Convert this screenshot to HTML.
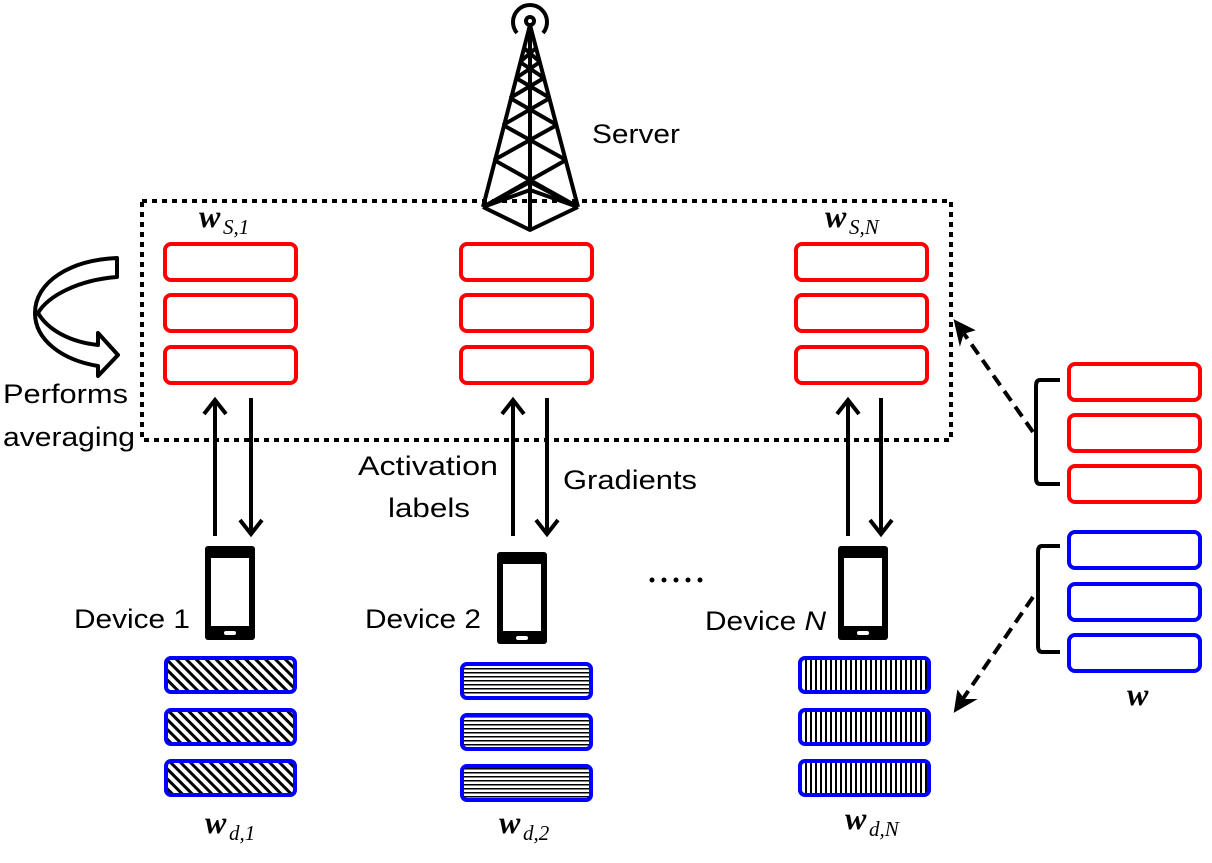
<!DOCTYPE html>
<html><head><meta charset="utf-8"><style>
html,body{margin:0;padding:0;background:#fff}
svg{display:block}
text{font-family:"Liberation Sans",sans-serif;fill:#000}
.m text{font-family:"Liberation Serif","DejaVu Serif",serif;font-style:italic}
</style></head><body>
<svg width="1212" height="863" viewBox="0 0 1212 863" xmlns="http://www.w3.org/2000/svg">
<defs>
<pattern id="diag" width="7" height="7" patternUnits="userSpaceOnUse" patternTransform="rotate(-45)">
<rect width="7" height="7" fill="#fff"/><rect width="3" height="7" fill="#000"/></pattern>
<pattern id="hor" width="5" height="4" patternUnits="userSpaceOnUse">
<rect width="5" height="4" fill="#fff"/><rect width="5" height="1.5" fill="#000"/></pattern>
<pattern id="ver" width="5" height="5" patternUnits="userSpaceOnUse">
<rect width="5" height="5" fill="#fff"/><rect width="2" height="5" fill="#000"/></pattern>
</defs>

<rect x="142" y="201" width="809" height="239" fill="none" stroke="#000" stroke-width="4" stroke-dasharray="5,5"/>

<g stroke="#000" stroke-width="4" fill="none" stroke-linejoin="round">
<circle cx="530" cy="21" r="4"/>
<path d="M517,33 A17,17 0 1 1 543,33"/>
<path d="M530,25 L483,207 M530,25 L578,207 M530,25 L530,230"/>
<path d="M483,207 L530,230 L578,207 M483,207 L530,182 L578,207 M483,207 L530,190 L578,207"/>
<path d="M524,48 L540,62 M536,48 L520,62 M520,62 L544,78 M540,62 L516,78 M516,78 L550,98 M544,78 L510,98 M510,98 L557,125 M550,98 L503,125 M503,125 L566,160 M557,125 L494,160 M494,160 L578,207 M566,160 L483,207"/>
</g>

<g fill="none" stroke="#f00" stroke-width="4">
<rect x="165" y="244" width="131" height="36" rx="6"/><rect x="165" y="295" width="131" height="36" rx="6"/><rect x="165" y="347" width="131" height="36" rx="6"/>
<rect x="461" y="244" width="131" height="36" rx="6"/><rect x="461" y="295" width="131" height="36" rx="6"/><rect x="461" y="347" width="131" height="36" rx="6"/>
<rect x="796" y="244" width="131" height="36" rx="6"/><rect x="796" y="295" width="131" height="36" rx="6"/><rect x="796" y="347" width="131" height="36" rx="6"/>
<rect x="1069" y="364" width="131" height="36" rx="6"/><rect x="1069" y="415" width="131" height="36" rx="6"/><rect x="1069" y="466" width="131" height="36" rx="6"/>
</g>
<g fill="none" stroke="#00f" stroke-width="4">
<rect x="1069" y="532" width="131" height="36" rx="6"/><rect x="1069" y="584" width="131" height="36" rx="6"/><rect x="1069" y="635" width="131" height="36" rx="6"/>
</g>
<g stroke="#00f" stroke-width="4">
<rect x="166" y="658" width="129" height="34" rx="5" fill="url(#diag)"/><rect x="166" y="710" width="129" height="34" rx="5" fill="url(#diag)"/><rect x="166" y="761" width="129" height="34" rx="5" fill="url(#diag)"/>
<rect x="462" y="664" width="129" height="34" rx="5" fill="url(#hor)"/><rect x="462" y="715" width="129" height="34" rx="5" fill="url(#hor)"/><rect x="462" y="766" width="129" height="34" rx="5" fill="url(#hor)"/>
<rect x="800" y="658" width="129" height="34" rx="5" fill="url(#ver)"/><rect x="800" y="710" width="129" height="34" rx="5" fill="url(#ver)"/><rect x="800" y="761" width="129" height="34" rx="5" fill="url(#ver)"/>
</g>

<g stroke="#000" stroke-width="4" fill="none" stroke-linejoin="miter">
<line x1="215" y1="536" x2="215" y2="400"/><path d="M204,414 L215,400 L226,414"/>
<line x1="251" y1="398" x2="251" y2="534"/><path d="M240,520 L251,534 L262,520"/>
<line x1="513" y1="536" x2="513" y2="400"/><path d="M502,414 L513,400 L524,414"/>
<line x1="547" y1="398" x2="547" y2="534"/><path d="M536,520 L547,534 L558,520"/>
<line x1="848" y1="536" x2="848" y2="400"/><path d="M837,414 L848,400 L859,414"/>
<line x1="881" y1="398" x2="881" y2="534"/><path d="M870,520 L881,534 L892,520"/>
<line x1="1033" y1="432" x2="960" y2="328" stroke-dasharray="12,7"/>
<line x1="1033" y1="597" x2="960" y2="703" stroke-dasharray="12,7"/>
</g>
<path d="M955,321 L973,330 L963,333 L960,343 Z" fill="#000" stroke="#000" stroke-width="2"/>
<path d="M955,711 L958,692 L964,700 L974,700 Z" fill="#000" stroke="#000" stroke-width="2"/>

<g fill="none" stroke="#000" stroke-width="4">
<path d="M1060,380 L1040,380 Q1036,380 1036,386 L1036,478 Q1036,484 1040,484 L1060,484"/>
<path d="M1060,546 L1042,546 Q1038,546 1038,552 L1038,646 Q1038,652 1042,652 L1060,652"/>
</g>

<path d="M117,258 L117,277 C78,280 48,296 38,313 C48,330 70,342 98,345 L98,333 L118,355 L98,376 L98,366 C62,360 35,340 35,313 C35,282 70,260 117,258 Z" fill="none" stroke="#000" stroke-width="4" stroke-linejoin="round"/>

<rect x="205" y="546" width="50" height="94" rx="3" fill="#000"/><rect x="211" y="558" width="38" height="68" fill="#fff"/><rect x="224" y="631" width="12" height="4" rx="2" fill="#fff"/>
<rect x="497" y="552" width="50" height="92" rx="3" fill="#000"/><rect x="503" y="564" width="38" height="67" fill="#fff"/><rect x="516" y="636" width="12" height="4" rx="2" fill="#fff"/>
<rect x="838" y="546" width="50" height="94" rx="3" fill="#000"/><rect x="844" y="558" width="38" height="68" fill="#fff"/><rect x="857" y="631" width="12" height="4" rx="2" fill="#fff"/>

<g font-size="27" lengthAdjust="spacingAndGlyphs">
<text x="592" y="143" textLength="88" lengthAdjust="spacingAndGlyphs">Server</text>
<text x="3" y="403" textLength="125" lengthAdjust="spacingAndGlyphs">Performs</text>
<text x="3" y="446" textLength="132" lengthAdjust="spacingAndGlyphs">averaging</text>
<text x="358" y="475" textLength="140" lengthAdjust="spacingAndGlyphs">Activation</text>
<text x="388" y="517" textLength="82" lengthAdjust="spacingAndGlyphs">labels</text>
<text x="563" y="489" textLength="134" lengthAdjust="spacingAndGlyphs">Gradients</text>
<text x="74" y="628" textLength="116" lengthAdjust="spacingAndGlyphs">Device 1</text>
<text x="365" y="628" textLength="116" lengthAdjust="spacingAndGlyphs">Device 2</text>
<text x="705" y="630" textLength="121" lengthAdjust="spacingAndGlyphs">Device <tspan font-style="italic">N</tspan></text>
</g>
<g fill="#000"><circle cx="652" cy="580" r="2.5"/><circle cx="664" cy="580" r="2.5"/><circle cx="676" cy="580" r="2.5"/><circle cx="688" cy="580" r="2.5"/><circle cx="700" cy="580" r="2.5"/></g>
<g class="m">
<text x="199" y="227" font-size="32" font-weight="bold">w</text><text x="223" y="234" font-size="21">S,1</text>
<text x="825" y="227" font-size="32" font-weight="bold">w</text><text x="849" y="234" font-size="21">S,N</text>
<text x="205" y="833" font-size="32" font-weight="bold">w</text><text x="229" y="840" font-size="21">d,1</text>
<text x="499" y="833" font-size="32" font-weight="bold">w</text><text x="523" y="840" font-size="21">d,2</text>
<text x="845" y="829" font-size="32" font-weight="bold">w</text><text x="869" y="836" font-size="21">d,N</text>
<text x="1127" y="705" font-size="32" font-weight="bold">w</text>
</g>
</svg>
</body></html>
